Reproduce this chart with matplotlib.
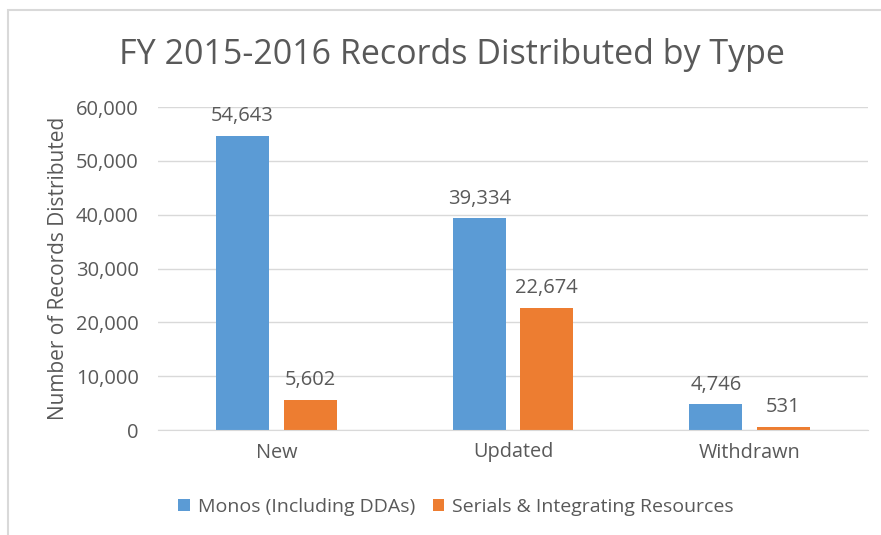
import matplotlib
matplotlib.use("Agg")
import matplotlib.pyplot as plt
from matplotlib.patches import Rectangle
import numpy as np

categories = ["New", "Updated", "Withdrawn"]
monos = [54643, 39334, 4746]
serials = [5602, 22674, 531]
series_names = ["Monos (Including DDAs)", "Serials & Integrating Resources"]

blue = "#5b9bd5"
orange = "#ed7d31"
txt = "#595959"
plt.rcParams["font.family"] = ["Open Sans", "DejaVu Sans"]

fig = plt.figure(figsize=(8.81, 5.35), dpi=100)
# chart frame (Excel style)
fig.patches.append(Rectangle((8 / 881, -0.05), 1.0, 1 - 10 / 535 + 0.05, transform=fig.transFigure,
                             fill=False, edgecolor="#d9d9d9", linewidth=1.5))

ax = fig.add_axes([158 / 881, 1 - 430 / 535, 710 / 881, 323 / 535])
x = np.arange(len(categories))
w = 0.224
b1 = ax.bar(x - 0.143, monos, w, color=blue, label=series_names[0])
b2 = ax.bar(x + 0.143, serials, w, color=orange, label=series_names[1])

ax.set_xlim(-0.5, 2.5)
ax.set_ylim(0, 60000)
ax.set_yticks(np.arange(0, 60001, 10000))
ax.set_yticklabels([f"{v:,}" for v in range(0, 60001, 10000)], fontsize=14.5, color=txt)
ax.set_xticks(x)
ax.set_xticklabels(categories, fontsize=14.3, color=txt)
ax.tick_params(length=0, pad=14)
ax.tick_params(axis="x", pad=9)
ax.yaxis.grid(True, color="#d9d9d9", linewidth=1)
ax.set_axisbelow(True)
for s in ["top", "right", "left"]:
    ax.spines[s].set_visible(False)
ax.spines["bottom"].set_color("#d9d9d9")

for bars, vals in [(b1, monos), (b2, serials)]:
    for bar, v in zip(bars, vals):
        ax.annotate(f"{v:,}", (bar.get_x() + bar.get_width() / 2, v), xytext=(0, 7),
                    textcoords="offset points", ha="center", va="bottom", fontsize=14.5, color=txt)

ax.set_ylabel("Number of Records Distributed", fontsize=15, color=txt, labelpad=5)
fig.text(452 / 881, 1 - 55 / 535, "FY 2015-2016 Records Distributed by Type",
         ha="center", va="center", fontsize=24.5, color=txt)

fig.legend(handles=[b1, b2], loc="center", bbox_to_anchor=(456 / 881, 1 - 507 / 535),
           ncol=2, frameon=False, fontsize=14, labelcolor=txt, handlelength=0.6,
           handleheight=0.6, columnspacing=0.9, handletextpad=0.4)

fig.savefig("out.png", dpi=100)
